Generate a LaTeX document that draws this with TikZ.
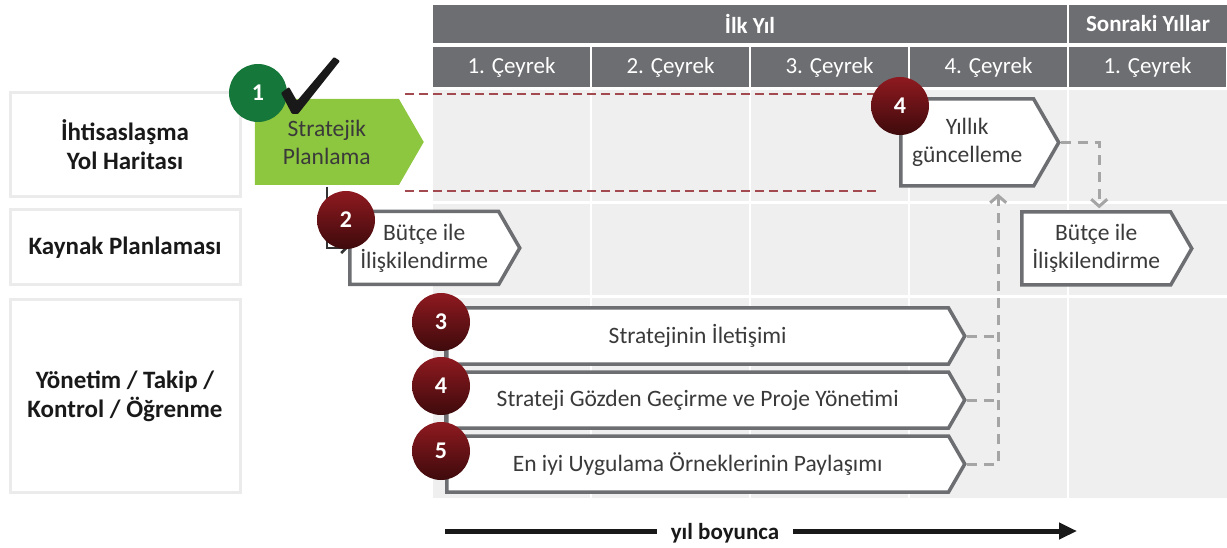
\documentclass[tikz,border=0pt]{standalone}
\usepackage{fontspec}
\setmainfont{Carlito}
\usetikzlibrary{shapes.symbols, arrows.meta, positioning, calc}

\definecolor{headGray}{HTML}{6D6E71}
\definecolor{gridGray}{HTML}{EFEFEF}
\definecolor{labelLine}{HTML}{EBEBEB}
\definecolor{planGreen}{HTML}{8DC63F}
\definecolor{stepGreen}{HTML}{16773A}
\definecolor{stepRedTop}{HTML}{8E1A20}
\definecolor{stepRedBot}{HTML}{3E0A0C}
\definecolor{bracketRed}{HTML}{A34A50}
\definecolor{feedGray}{HTML}{A5A5A5}
\definecolor{textGray}{HTML}{3A3A3A}

\begin{document}
\begin{tikzpicture}[x=1pt, y=-1pt,
    head/.style={fill=headGray, text=white, inner sep=0pt, minimum height=38pt,
      font=\bfseries\fontsize{23}{26}\selectfont},
    quarter/.style={fill=headGray, text=white, inner sep=0pt, minimum width=157pt,
      minimum height=40pt, font=\fontsize{23}{26}\selectfont},
    rowname/.style={draw=labelLine, line width=3pt, fill=white, minimum width=230pt,
      align=center, text=black!90, font=\bfseries\fontsize{25}{29}\selectfont},
    task/.style={signal, signal to=east, signal pointer angle=120, draw=headGray,
      line width=3.5pt, fill=white, inner sep=0pt, align=center, text=textGray,
      anchor=west, font=\fontsize{23.5}{28}\selectfont},
    numbase/.style={circle, inner sep=0pt, minimum size=58pt, text=white,
      font=\bfseries\fontsize{24}{26}\selectfont},
    rednum/.style={numbase, top color=stepRedTop, bottom color=stepRedBot},
    bracket/.style={draw=bracketRed, line width=2pt, dash pattern=on 9pt off 5pt},
    feed/.style={draw=feedGray, line width=3pt, dash pattern=on 10pt off 7pt},
    feedtip/.style={-{Straight Barb[length=7pt, width=16pt]}},
    link/.style={draw=black!80, line width=2.5pt, -{Straight Barb[length=5pt, width=10pt]}},
    stem/.style={draw=headGray, line width=3pt},
    yearline/.style={draw=black!90, line width=5pt}
  ]
    \useasboundingbox (0,0) rectangle (1227,548);

    \fill[gridGray] (433,90) rectangle (1227,498);
    \foreach \x in {591,750,909,1068}
        \draw[white, line width=2pt] (\x,90) -- (\x,498);
    \foreach \y in {203,297}
        \draw[white, line width=3pt] (433,\y) -- (1227,\y);

    \node[head, minimum width=634pt] (firstYear) at (750,24) {İlk Yıl};
    \node[head, minimum width=158pt] (laterYears) at (1148,24) {Sonraki Yıllar};
    \foreach \i/\q in {0/1,1/2,2/3,3/4,4/1}
        \node[quarter] (q\i) at (511.5+159*\i,67) {\q. Çeyrek};

    \node[rowname, minimum height=104pt] (roadmap) at (125,145) {İhtisaslaşma\\Yol Haritası};
    \node[rowname, minimum height=75pt] (resources) at (125,247.5) {Kaynak Planlaması};
    \node[rowname, minimum height=192pt] (governance) at (125,396) {Yönetim / Takip /\\Kontrol / Öğrenme};

    \node[task, fill=planGreen, draw=none, minimum width=169pt, minimum height=86pt] (plan) at (253,142) {Stratejik\\Planlama};
    \node[task, minimum width=158pt, minimum height=87pt] (update) at (899,142.5) {Yıllık\\güncelleme};

    \draw[bracket] ($(plan.north)+(78,-3)$) -- ($(plan.north -| update.west)+(0,-3)$);
    \draw[bracket] ($(plan.south)+(78,4)$) -- ($(plan.south -| update.west)+(-19,4)$);

    \node[task, minimum width=170pt, minimum height=73pt] (budgetA) at (348,248) {Bütçe ile\\İlişkilendirme};
    \node[task, minimum width=170pt, minimum height=73pt] (budgetB) at (1020,248.5) {Bütçe ile\\İlişkilendirme};

    \draw[link] (plan.south) |- (budgetA.west);

    \foreach \n/\y/\t in {comm/336/Stratejinin İletişimi,
                          review/400/Strateji Gözden Geçirme ve Proje Yönetimi,
                          share/464/En iyi Uygulama Örneklerinin Paylaşımı}
        \node[task, minimum width=518pt, minimum height=56pt] (\n) at (445,\y) {\t};
    \draw[stem] (comm.west) -- (share.west);

    \coordinate (upIn) at ($(update.south)+(31,6)$);
    \draw[feed] (comm.east) -- (comm.east -| upIn);
    \draw[feed] (review.east) -- (review.east -| upIn);
    \draw[feed, feedtip] (share.east) -| (upIn);
    \draw[feed, feedtip] (update.east) -| ($(budgetB.north)+(3,-2)$);

    \node[numbase, fill=stepGreen] (s1) at (258,93) {1};
    \node[rednum] (s2) at (346,220) {2};
    \node[rednum] (s4a) at (900,106) {4};
    \foreach \n/\y/\k in {s3/322/3, s4b/386/4, s5/451/5}
        \node[rednum] (\n) at (441,\y) {\k};

    \fill[black!90, rounded corners=1pt] (281,93) -- (289,87) -- (297,101) -- (334,57)
        -- (340,61) -- (298,114) -- (292,114) -- cycle;

    \node[font=\bfseries\fontsize{23}{26}\selectfont, text=black!90, inner xsep=14pt] (yearLabel) at (725,533) {yıl boyunca};
    \coordinate (yearStart) at (445,531);
    \coordinate (yearEnd) at (1077,531);
    \draw[yearline] (yearStart) -- (yearLabel.west |- yearStart);
    \draw[yearline, -{Triangle[length=18pt, width=16pt]}] (yearLabel.east |- yearStart) -- (yearEnd);
\end{tikzpicture}
\end{document}
